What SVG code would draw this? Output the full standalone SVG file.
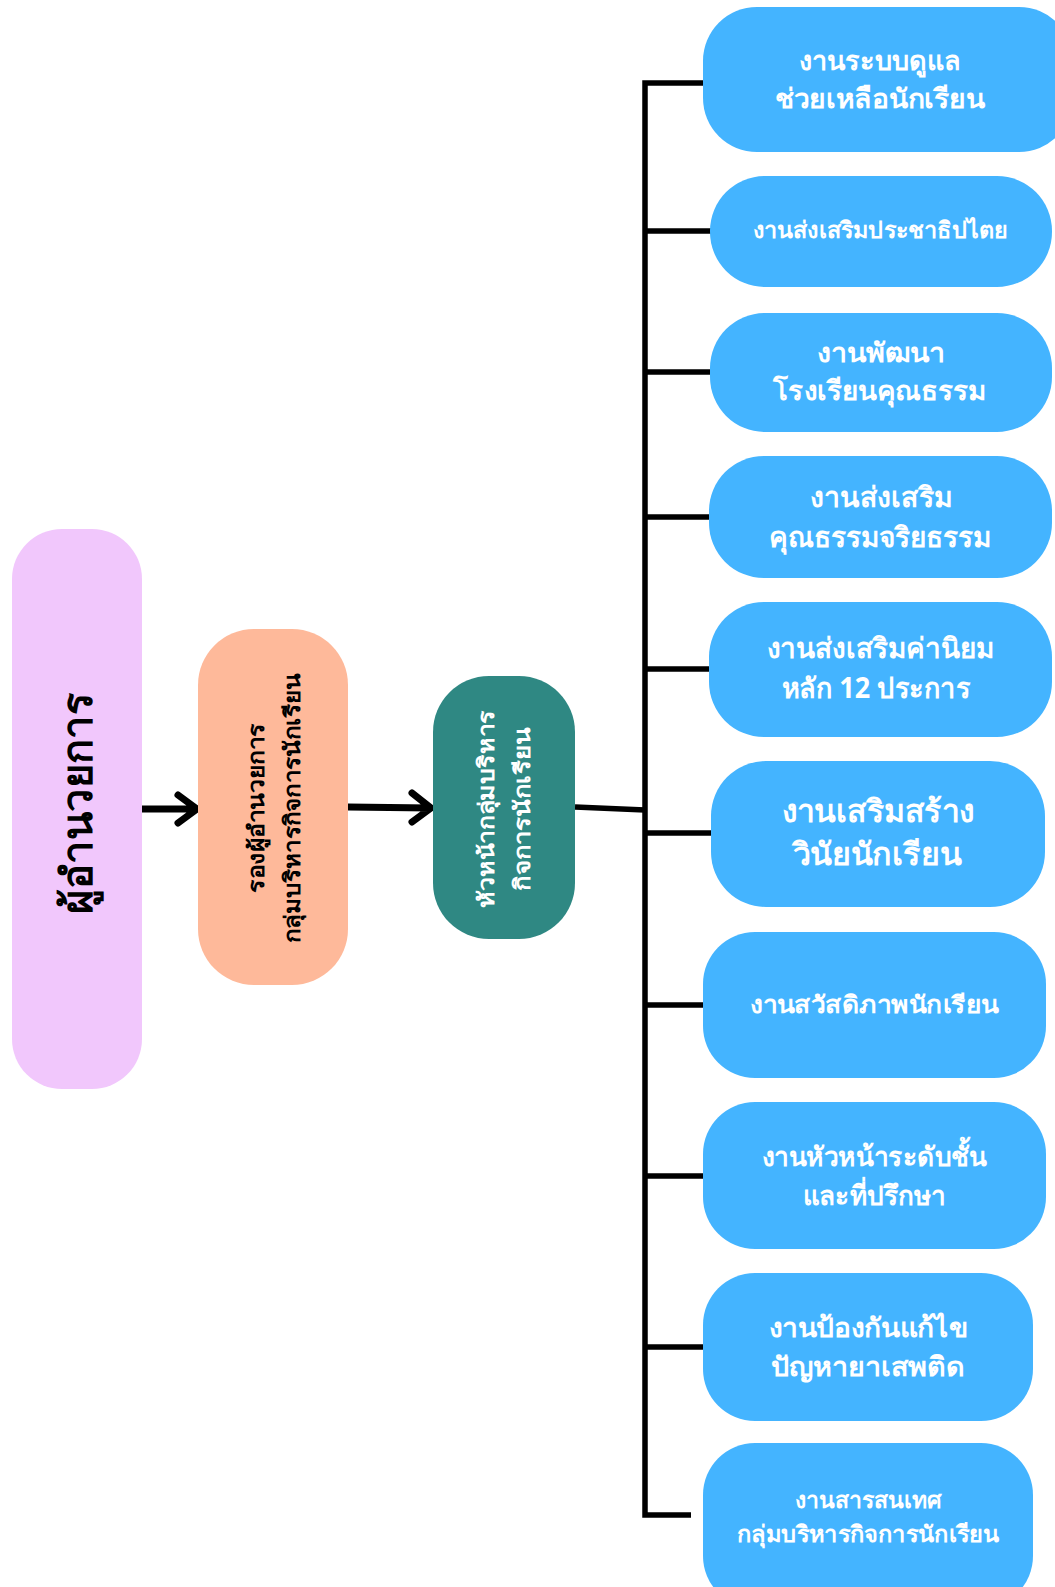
<svg xmlns="http://www.w3.org/2000/svg" width="1055" height="1587" viewBox="0 0 1055 1587">
<style>
text{font-family:"Noto Sans","DejaVu Sans",sans-serif;font-weight:700;text-anchor:middle}
.b{fill:#44B4FF}
.w{fill:#FFFFFF}
.k{fill:#000000}
.ln{fill:none;stroke:#000;stroke-width:5.5}
.ar{fill:none;stroke:#000;stroke-width:7;stroke-linecap:round;stroke-linejoin:round}
</style>
<rect width="1055" height="1587" fill="#FFFFFF"/>
<g id="connectors">
<path class="ar" d="M142 809 H196 M178 795 L197 809 L178 823"/>
<path class="ar" d="M348 807 L430 808 M412 793 L431 808 L412 822"/>
<path class="ln" d="M575 807 L645 810"/>
<path class="ln" d="M705 83 H645 V1515 H691" stroke-linejoin="miter"/>
<path class="ln" d="M645 231 H711 M645 372 H711 M645 517 H711 M645 669 H711 M645 833 H712 M645 1005 H704 M645 1176 H704 M645 1347 H704"/>
</g>
<g id="director">
<rect x="12" y="529" width="130" height="560" rx="50" fill="#F1C7FC"/>
<g transform="translate(80,803) rotate(-90)"><text class="k" x="0" y="12" font-size="42" textLength="221" lengthAdjust="spacingAndGlyphs">ผู้อำนวยการ</text></g>
</g>
<g id="deputy">
<rect x="198" y="629" width="150" height="356" rx="56" fill="#FEB99A"/>
<g transform="translate(273,808) rotate(-90)">
<text class="k" x="0" y="-9" font-size="22" textLength="170" lengthAdjust="spacingAndGlyphs">รองผู้อำนวยการ</text>
<text class="k" x="0" y="27" font-size="22" textLength="270" lengthAdjust="spacingAndGlyphs">กลุ่มบริหารกิจการนักเรียน</text>
</g>
</g>
<g id="head">
<rect x="433" y="676" width="142" height="263" rx="56" fill="#2F8883"/>
<g transform="translate(504,809) rotate(-90)">
<text class="w" x="0" y="-10" font-size="22" textLength="198" lengthAdjust="spacingAndGlyphs">หัวหน้ากลุ่มบริหาร</text>
<text class="w" x="0" y="26" font-size="22" textLength="163" lengthAdjust="spacingAndGlyphs">กิจการนักเรียน</text>
</g>
</g>
<g id="n1">
<rect class="b" x="703" y="7" width="370" height="145" rx="54"/>
<text class="w" x="880" y="70" font-size="27" textLength="162" lengthAdjust="spacingAndGlyphs">งานระบบดูแล</text>
<text class="w" x="880" y="108" font-size="27" textLength="210" lengthAdjust="spacingAndGlyphs">ช่วยเหลือนักเรียน</text>
</g>
<g id="n2">
<rect class="b" x="710" y="176" width="342" height="111" rx="55"/>
<text class="w" x="880" y="238" font-size="23" textLength="255" lengthAdjust="spacingAndGlyphs">งานส่งเสริมประชาธิปไตย</text>
</g>
<g id="n3">
<rect class="b" x="710" y="313" width="342" height="119" rx="55"/>
<text class="w" x="881" y="362" font-size="27" textLength="128" lengthAdjust="spacingAndGlyphs">งานพัฒนา</text>
<text class="w" x="880" y="400" font-size="27" textLength="214" lengthAdjust="spacingAndGlyphs">โรงเรียนคุณธรรม</text>
</g>
<g id="n4">
<rect class="b" x="709" y="456" width="343" height="122" rx="55"/>
<text class="w" x="881" y="507" font-size="28" textLength="142" lengthAdjust="spacingAndGlyphs">งานส่งเสริม</text>
<text class="w" x="880" y="547" font-size="28" textLength="222" lengthAdjust="spacingAndGlyphs">คุณธรรมจริยธรรม</text>
</g>
<g id="n5">
<rect class="b" x="709" y="602" width="343" height="135" rx="55"/>
<text class="w" x="880" y="658" font-size="28" textLength="227" lengthAdjust="spacingAndGlyphs">งานส่งเสริมค่านิยม</text>
<text class="w" x="876" y="698" font-size="28" textLength="188" lengthAdjust="spacingAndGlyphs">หลัก 12 ประการ</text>
</g>
<g id="n6">
<rect class="b" x="711" y="761" width="334" height="146" rx="55"/>
<text class="w" x="878" y="822" font-size="31" textLength="193" lengthAdjust="spacingAndGlyphs">งานเสริมสร้าง</text>
<text class="w" x="877" y="865" font-size="31" textLength="169" lengthAdjust="spacingAndGlyphs">วินัยนักเรียน</text>
</g>
<g id="n7">
<rect class="b" x="703" y="932" width="343" height="146" rx="52"/>
<text class="w" x="874" y="1013" font-size="24" textLength="249" lengthAdjust="spacingAndGlyphs">งานสวัสดิภาพนักเรียน</text>
</g>
<g id="n8">
<rect class="b" x="703" y="1102" width="343" height="147" rx="52"/>
<text class="w" x="874" y="1166" font-size="27" textLength="225" lengthAdjust="spacingAndGlyphs">งานหัวหน้าระดับชั้น</text>
<text class="w" x="874" y="1205" font-size="27" textLength="143" lengthAdjust="spacingAndGlyphs">และที่ปรึกษา</text>
</g>
<g id="n9">
<rect class="b" x="703" y="1273" width="330" height="148" rx="52"/>
<text class="w" x="868" y="1337" font-size="27" textLength="199" lengthAdjust="spacingAndGlyphs">งานป้องกันแก้ไข</text>
<text class="w" x="868" y="1376" font-size="27" textLength="194" lengthAdjust="spacingAndGlyphs">ปัญหายาเสพติด</text>
</g>
<g id="n10">
<rect class="b" x="703" y="1443" width="330" height="165" rx="52"/>
<text class="w" x="868" y="1508" font-size="23" textLength="147" lengthAdjust="spacingAndGlyphs">งานสารสนเทศ</text>
<text class="w" x="868" y="1542" font-size="23" textLength="262" lengthAdjust="spacingAndGlyphs">กลุ่มบริหารกิจการนักเรียน</text>
</g>
</svg>
